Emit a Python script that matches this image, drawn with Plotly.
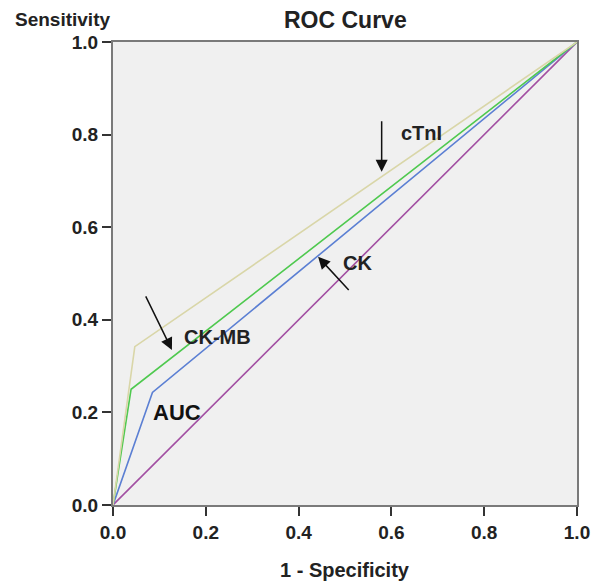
import plotly.graph_objects as go

# Data
ctni_x = [0.0, 0.047, 1.0]
ctni_y = [0.0, 0.342, 1.0]
ckmb_x = [0.0, 0.039, 1.0]
ckmb_y = [0.0, 0.250, 1.0]
ck_x = [0.0, 0.085, 1.0]
ck_y = [0.0, 0.243, 1.0]
ref_x = [0.0, 1.0]
ref_y = [0.0, 1.0]
tick_vals = [0.0, 0.2, 0.4, 0.6, 0.8, 1.0]
tick_text = ["0.0", "0.2", "0.4", "0.6", "0.8", "1.0"]

FONT = "Liberation Sans, Arial, sans-serif"

fig = go.Figure()
fig.add_trace(go.Scatter(x=ref_x, y=ref_y, mode="lines", line=dict(color="#a24fa2", width=1.6), name="Reference"))
fig.add_trace(go.Scatter(x=ck_x, y=ck_y, mode="lines", line=dict(color="#5b7fd3", width=1.6), name="CK"))
fig.add_trace(go.Scatter(x=ckmb_x, y=ckmb_y, mode="lines", line=dict(color="#4fc94f", width=1.6), name="CK-MB"))
fig.add_trace(go.Scatter(x=ctni_x, y=ctni_y, mode="lines", line=dict(color="#d9d6a8", width=1.6), name="cTnI"))

axis_common = dict(
    range=[0, 1], tickvals=tick_vals, ticktext=["<b>%s</b>" % t for t in tick_text],
    showgrid=False, zeroline=False, showline=True, linecolor="#7a7a7a", linewidth=2,
    mirror=True, ticks="outside", ticklen=9, tickcolor="#333333", tickwidth=1.5,
    tickfont=dict(family=FONT, size=19, color="#222222"),
)

# The page body has an 8px default margin; size the figure to compensate
fig.update_layout(
    width=592, height=577,
    margin=dict(l=105, r=23, t=34, b=80, autoexpand=False),
    paper_bgcolor="white", plot_bgcolor="#f0f0f0",
    showlegend=False,
    xaxis=dict(**axis_common),
    yaxis=dict(**axis_common),
    font=dict(family=FONT),
)

fig.add_annotation(text="<b>ROC Curve</b>", xref="paper", yref="paper", x=0.502, y=1, yshift=22,
                   showarrow=False, font=dict(size=23, color="#222222", family=FONT), xanchor="center", yanchor="middle")
fig.add_annotation(text="<b>Sensitivity</b>", xref="paper", yref="paper", x=0, xshift=-51, y=1, yshift=23,
                   showarrow=False, font=dict(size=19, color="#222222", family=FONT), xanchor="center", yanchor="middle")
fig.add_annotation(text="<b>1 - Specificity</b>", xref="paper", yref="paper", x=0.5, y=0, yshift=-65,
                   showarrow=False, font=dict(size=20, color="#222222", family=FONT), xanchor="center", yanchor="middle")

label_font = dict(size=20, color="#222222", family=FONT)
fig.add_annotation(text="<b>cTnI</b>", x=0.665, y=0.803, showarrow=False, font=label_font)
fig.add_annotation(text="<b>CK</b>", x=0.528, y=0.523, showarrow=False, font=label_font)
fig.add_annotation(text="<b>CK-MB</b>", x=0.226, y=0.363, showarrow=False, font=label_font)
fig.add_annotation(text="<b>AUC</b>", x=0.137, y=0.199, showarrow=False, font=dict(size=22, color="#111111", family=FONT))

arrow_style = dict(text="", showarrow=True, arrowhead=2, arrowsize=1.6, arrowwidth=1.5, arrowcolor="#111111",
                   axref="x", ayref="y")
fig.add_annotation(x=0.579, y=0.720, ax=0.579, ay=0.832, **arrow_style)
fig.add_annotation(x=0.442, y=0.536, ax=0.511, ay=0.461, **arrow_style)
fig.add_annotation(x=0.127, y=0.335, ax=0.069, ay=0.454, **arrow_style)

fig.write_html("out.html")
